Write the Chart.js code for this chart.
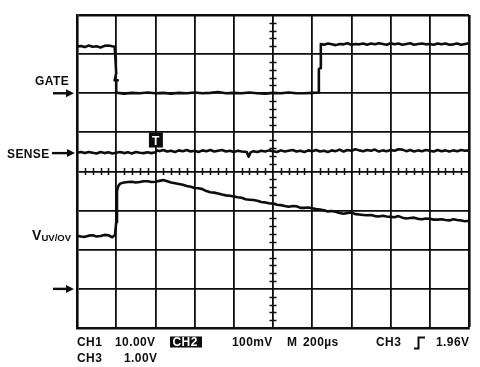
<!DOCTYPE html>
<html>
<head>
<meta charset="utf-8">
<script src="https://cdn.jsdelivr.net/npm/chart.js@4/dist/chart.umd.min.js"></script>
<style>
html,body{margin:0;padding:0;background:#fff;}
#wrap{width:480px;height:367px;position:relative;}
</style>
</head>
<body>
<div id="wrap"><canvas id="c" width="480" height="367"></canvas></div>
<script>
// Time axis in graticule divisions (200 µs/div), vertical in divisions (0 = bottom, 8 = top)
const gateT = [0,0.1,0.2,0.3,0.4,0.5,0.6,0.7,0.8,0.9,0.96,0.98,0.99,1.0, 0.96,1.04,1.0,1.0,1.05,1.2,1.4,1.6,1.8,2.0,2.2,2.4,2.6,2.8,3.0,3.2,3.4,3.6,3.8,4.0,4.2,4.4,4.6,4.8,5.0,5.2,5.4,5.6,5.8,6.0,6.15,6.17,6.2,6.22,6.3,6.4,6.5,6.6,6.7,6.8,6.9,7.0,7.1,7.2,7.3,7.4,7.5,7.6,7.7,7.8,7.9,8.0,8.1,8.2,8.3,8.4,8.5,8.6,8.7,8.8,8.9,9.0,9.1,9.2,9.3,9.4,9.5,9.6,9.7,9.8,9.9,10.0];
const gateV = [7.19,7.21,7.18,7.22,7.19,7.20,7.17,7.21,7.22,7.20,7.19,6.90,6.70,6.51, 6.33,6.33,6.33,6.02,6.01,5.99,6.01,6.00,6.02,6.00,6.01,5.99,6.01,6.00,6.02,6.00,6.01,6.03,6.00,6.01,6.00,6.02,6.00,5.99,6.01,6.00,6.02,6.00,6.00,6.01,6.02,6.62,6.64,7.26,7.24,7.27,7.25,7.23,7.26,7.25,7.28,7.24,7.26,7.25,7.27,7.24,7.27,7.25,7.28,7.26,7.24,7.28,7.25,7.27,7.24,7.26,7.28,7.24,7.26,7.27,7.25,7.26,7.24,7.27,7.25,7.27,7.24,7.25,7.27,7.24,7.26,7.28];

const senseT = [0,0.1,0.2,0.3,0.4,0.5,0.6,0.7,0.8,0.9,1.0,1.1,1.2,1.3,1.4,1.5,1.6,1.7,1.8,1.9,2.0,2.05,2.1,2.2,2.3,2.4,2.5,2.6,2.7,2.8,2.9,3.0,3.1,3.2,3.3,3.4,3.5,3.6,3.7,3.8,3.9,4.0,4.1,4.2,4.33,4.38,4.43,4.5,4.6,4.7,4.8,4.9,5.0,5.1,5.2,5.3,5.4,5.5,5.6,5.7,5.8,5.9,6.0,6.1,6.2,6.3,6.4,6.5,6.6,6.7,6.8,6.9,7.0,7.1,7.2,7.3,7.4,7.5,7.6,7.7,7.8,7.9,8.0,8.1,8.2,8.3,8.4,8.5,8.6,8.7,8.8,8.9,9.0,9.1,9.2,9.3,9.4,9.5,9.6,9.7,9.8,9.9,10.0];
const senseV = [4.48,4.50,4.47,4.50,4.48,4.46,4.50,4.47,4.49,4.46,4.48,4.50,4.47,4.49,4.46,4.50,4.48,4.47,4.49,4.47,4.49,4.54,4.52,4.55,4.51,4.53,4.50,4.54,4.52,4.55,4.51,4.53,4.50,4.54,4.52,4.55,4.51,4.53,4.55,4.51,4.53,4.50,4.53,4.51,4.50,4.38,4.49,4.52,4.50,4.53,4.51,4.54,4.52,4.50,4.54,4.51,4.53,4.55,4.51,4.53,4.50,4.54,4.52,4.55,4.51,4.53,4.50,4.54,4.52,4.56,4.51,4.55,4.53,4.57,4.54,4.52,4.55,4.53,4.56,4.51,4.54,4.52,4.55,4.53,4.57,4.56,4.52,4.55,4.51,4.54,4.52,4.55,4.53,4.51,4.55,4.52,4.54,4.51,4.54,4.52,4.55,4.53,4.54];

const uvovT = [0,0.1,0.2,0.3,0.4,0.5,0.6,0.7,0.8,0.9,0.97,1.0,1.02,1.05,1.1,1.2,1.3,1.4,1.5,1.6,1.7,1.8,1.9,2.0,2.1,2.2,2.3,2.4,2.5,2.6,2.7,2.8,2.9,3.0,3.1,3.2,3.3,3.4,3.5,3.6,3.7,3.8,3.9,4.0,4.1,4.2,4.3,4.4,4.5,4.6,4.7,4.8,4.9,5.0,5.1,5.2,5.3,5.4,5.5,5.6,5.7,5.8,5.9,6.0,6.1,6.2,6.3,6.4,6.5,6.6,6.7,6.8,6.9,7.0,7.1,7.2,7.3,7.4,7.5,7.6,7.7,7.8,7.9,8.0,8.1,8.2,8.3,8.4,8.5,8.6,8.7,8.8,8.9,9.0,9.1,9.2,9.3,9.4,9.5,9.6,9.7,9.8,9.9,10.0];
const uvovV = [2.36,2.34,2.33,2.36,2.37,2.34,2.35,2.38,2.37,2.32,2.38,2.70,3.50,3.62,3.69,3.72,3.73,3.74,3.72,3.73,3.75,3.75,3.73,3.74,3.76,3.78,3.75,3.72,3.70,3.68,3.66,3.63,3.61,3.58,3.57,3.55,3.50,3.47,3.46,3.44,3.41,3.39,3.38,3.36,3.34,3.33,3.29,3.28,3.27,3.25,3.22,3.21,3.19,3.18,3.15,3.14,3.12,3.10,3.12,3.11,3.07,3.07,3.08,3.06,3.04,3.03,3.01,2.98,2.99,2.97,2.94,2.92,2.94,2.95,2.91,2.90,2.89,2.88,2.89,2.86,2.85,2.87,2.85,2.84,2.83,2.86,2.82,2.80,2.81,2.82,2.79,2.78,2.80,2.79,2.77,2.77,2.78,2.76,2.75,2.78,2.76,2.75,2.73,2.74];

const channelLabels = ["GATE","SENSE"];
const groundMarks = [6.0, 4.47, 1.0]; // GATE, SENSE, CH3 ground arrows (divisions)
const triggerTime = 2.0;
const infoRow1 = ["CH1","10.00V","CH2","100mV","M","200µs","CH3","1.96V"];
const infoRow2 = ["CH3","1.00V"];

function pts(t,v){return t.map((x,i)=>({x:x,y:v[i]}));}

const INK = '#0d0d0d';
const FONT = '"Liberation Sans", Arial, sans-serif';

const graticule = {
  id:'graticule',
  beforeDatasetsDraw(chart){
    const {ctx, scales:{x,y}} = chart;
    ctx.save();
    ctx.strokeStyle = INK; ctx.lineWidth = 1.5;
    const cy = y.getPixelForValue(4), cx = x.getPixelForValue(5);
    for(let i=1;i<50;i++){
      if(i%5===0) continue;
      const px = Math.round(x.getPixelForValue(i/5))+0.5;
      ctx.beginPath(); ctx.moveTo(px,cy-3.5); ctx.lineTo(px,cy+3.5); ctx.stroke();
    }
    for(let i=1;i<40;i++){
      if(i%5===0) continue;
      const py = Math.round(y.getPixelForValue(i/5))+0.5;
      ctx.beginPath(); ctx.moveTo(cx-3.5,py); ctx.lineTo(cx+3.5,py); ctx.stroke();
    }
    ctx.restore();
  }
};

function arrow(ctx, x0, x1, yy){
  ctx.beginPath(); ctx.lineWidth = 2.4; ctx.strokeStyle = INK;
  ctx.moveTo(x0,yy); ctx.lineTo(x1-6,yy); ctx.stroke();
  ctx.beginPath(); ctx.fillStyle = INK;
  ctx.moveTo(x1-8,yy-4); ctx.lineTo(x1,yy); ctx.lineTo(x1-8,yy+4); ctx.closePath(); ctx.fill();
}

const annotations = {
  id:'annotations',
  afterDraw(chart){
    const {ctx, scales:{x,y}} = chart;
    ctx.save();
    ctx.fillStyle = INK;
    ctx.textBaseline = 'alphabetic';
    try{ ctx.letterSpacing = '0.4px'; }catch(e){}
    ctx.font = 'bold 12px ' + FONT;
    // channel labels
    ctx.fillText(channelLabels[0], 35, 84.5);
    arrow(ctx, 53, 74, y.getPixelForValue(groundMarks[0]));
    ctx.fillStyle = INK;
    ctx.fillText(channelLabels[1], 7, 157.5);
    arrow(ctx, 52, 75, y.getPixelForValue(groundMarks[1]));
    ctx.fillStyle = INK;
    ctx.font = 'bold 14px ' + FONT;
    ctx.fillText('V', 32, 239.5);
    try{ ctx.letterSpacing = '0px'; }catch(e){}
    ctx.font = 'bold 9.5px ' + FONT;
    ctx.fillText('UV/OV', 41.5, 240.5);
    try{ ctx.letterSpacing = '0.4px'; }catch(e){}
    arrow(ctx, 53, 74, y.getPixelForValue(groundMarks[2]));
    // trigger marker
    const tx = x.getPixelForValue(triggerTime);
    ctx.fillStyle = INK;
    ctx.fillRect(tx-6.5, 132.5, 14, 15);
    ctx.fillStyle = '#fff';
    ctx.font = 'bold 12px ' + FONT;
    ctx.textAlign = 'center';
    ctx.fillText('T', tx+0.5, 145);
    ctx.textAlign = 'left';
    // info rows
    ctx.fillStyle = INK;
    ctx.font = 'bold 12px ' + FONT;
    const r1 = 346, r2 = 361.5;
    ctx.fillText(infoRow1[0], 77, r1);
    ctx.fillText(infoRow1[1], 115, r1);
    ctx.fillRect(170, 336.5, 32, 11);
    ctx.fillStyle = '#fff';
    ctx.fillText(infoRow1[2], 172.5, r1);
    ctx.fillStyle = INK;
    ctx.fillText(infoRow1[3], 232, r1);
    ctx.fillText(infoRow1[4], 287, r1);
    ctx.fillText(infoRow1[5], 303, r1);
    ctx.fillText(infoRow1[6], 376, r1);
    ctx.beginPath(); ctx.lineWidth = 2; ctx.strokeStyle = INK;
    ctx.moveTo(414,348.5); ctx.lineTo(418.5,348.5); ctx.lineTo(418.5,337.5); ctx.lineTo(425,337.5); ctx.stroke();
    ctx.fillText(infoRow1[7], 436, r1);
    ctx.fillText(infoRow2[0], 77, r2);
    ctx.fillText(infoRow2[1], 124, r2);
    ctx.restore();
  }
};

const edgeW = c => (c.tick && (c.tick.value===c.scale.max)) ? 2.6 : 1.8;

new Chart(document.getElementById('c'), {
  type:'line',
  data:{datasets:[
    {data:pts(gateT,gateV)},
    {data:pts(senseT,senseV)},
    {data:pts(uvovT,uvovV)}
  ].map(d=>Object.assign(d,{borderColor:INK,borderWidth:2.6,pointRadius:0,tension:0,fill:false,borderJoinStyle:'round'}))},
  options:{
    responsive:false, animation:false, events:[],
    layout:{padding:{left:77,top:15,right:11,bottom:39}},
    plugins:{legend:{display:false},tooltip:{enabled:false}},
    scales:{
      x:{type:'linear',min:0,max:10,ticks:{display:false,stepSize:1},
         grid:{color:INK,lineWidth:edgeW,drawTicks:false},
         border:{display:true,color:INK,width:2.6}},
      y:{type:'linear',min:0,max:8,ticks:{display:false,stepSize:1},
         grid:{color:INK,lineWidth:edgeW,drawTicks:false},
         border:{display:true,color:INK,width:2.6}}
    }
  },
  plugins:[graticule, annotations]
});
</script>
</body>
</html>
